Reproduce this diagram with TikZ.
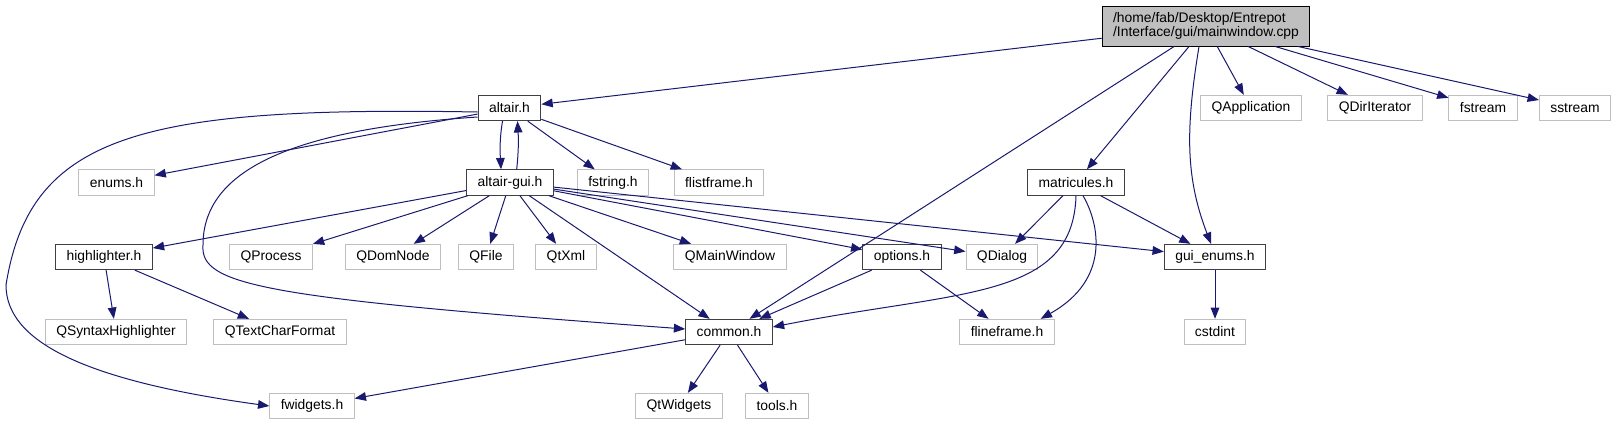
\documentclass[tikz,border=0pt]{standalone}
\usepackage{fontspec}
\setmainfont{Liberation Sans}
\usetikzlibrary{arrows.meta}
\definecolor{cEdge}{HTML}{191970}
\definecolor{cDoc}{HTML}{404040}
\definecolor{cExt}{HTML}{BFBFBF}
\definecolor{cMain}{HTML}{BFBFBF}

\begin{document}
\begin{tikzpicture}[
  x=0.75pt, y=-0.75pt,
  font=\fontsize{10.4}{12}\selectfont,
  >={Triangle[length=8.5pt, width=6.5pt]},
  hbox/.style   = {rectangle, draw, line width=0.75pt, inner xsep=8.2pt,
                   inner ysep=0pt, minimum height=19pt},
  doc/.style    = {hbox, draw=cDoc, fill=white},
  ext/.style    = {hbox, draw=cExt, fill=white},
  srcbox/.style = {hbox, draw=black, fill=cMain, align=left,
                   minimum height=30pt, font=\fontsize{10.4}{10.5}\selectfont},
  dep/.style    = {->, draw=cEdge, line width=0.75pt}]

\useasboundingbox (0,0) rectangle (1619,425);

% ---- rank 0: the source file ---------------------------------------------
\node[srcbox] (main) at (1206,26)
   {/home/fab/Desktop/Entrepot\\/Interface/gui/mainwindow.cpp};

% ---- rank 1 ----------------------------------------------------------------
\node[doc] (altair) at (509.5,108) {altair.h};
\node[ext] (qapp)   at (1251,108)  {QApplication};
\node[ext] (qdir)   at (1375,108)  {QDirIterator};
\node[ext] (fstream) at (1483,108) {fstream};
\node[ext] (sstream) at (1575,108) {sstream};

% ---- rank 2 ----------------------------------------------------------------
\node[ext] (enums)     at (116.5,182.5) {enums.h};
\node[doc] (altairgui) at (510,182.5)   {altair-gui.h};
\node[ext] (fstring)   at (613,182.5)   {fstring.h};
\node[ext] (flist)     at (719,182.5)   {flistframe.h};
\node[doc] (matr)      at (1076,182.5)  {matricules.h};

% ---- rank 3 ----------------------------------------------------------------
\node[doc] (hl)       at (104,257)  {highlighter.h};
\node[ext] (qproc)    at (271,257)  {QProcess};
\node[ext] (qdom)     at (393,257)  {QDomNode};
\node[ext] (qfile)    at (486,257)  {QFile};
\node[ext] (qtxml)    at (566,257)  {QtXml};
\node[ext] (qmain)    at (730,257)  {QMainWindow};
\node[doc] (options)  at (902,257)  {options.h};
\node[ext] (qdialog)  at (1002,257) {QDialog};
\node[doc] (guienums) at (1215,257) {gui\_enums.h};

% ---- rank 4 ----------------------------------------------------------------
\node[ext] (qsyntax) at (116,332)  {QSyntaxHighlighter};
\node[ext] (qtcf)    at (280,332)  {QTextCharFormat};
\node[doc] (common)  at (729,332)  {common.h};
\node[ext] (fline)   at (1007,332) {flineframe.h};
\node[ext] (cstdint) at (1215,332) {cstdint};

% ---- rank 5 ----------------------------------------------------------------
\node[ext] (fwidgets)  at (312,406) {fwidgets.h};
\node[ext] (qtwidgets) at (679,406) {QtWidgets};
\node[ext] (tools)     at (777,406) {tools.h};

% bend points of the long splines
\coordinate (fwbend) at (6,285);
\coordinate (cmbend) at (203,245);

% main includes
\draw[dep] (main) -- (altair);
\draw[dep] (main) -- (common);
\draw[dep] (main) -- (matr);
\draw[dep] ([xshift=-5.25pt]main.south) .. controls +(-14,85) and +(-25,-65)
   .. ([xshift=-3pt]guienums.north);
\draw[dep] (main) -- (qapp);
\draw[dep] (main) -- (qdir);
\draw[dep] (main) -- (fstream);
\draw[dep] (main) -- (sstream);

% altair.h
\draw[dep] ([xshift=-5.25pt]altair.south) .. controls +(-3,18) and +(-1,-18)
   .. ([xshift=-6.75pt]altairgui.north);
\draw[dep] ([xshift=5pt]altairgui.north) .. controls +(2,-18) and +(1,18)
   .. ([xshift=6pt]altair.south);
\draw[dep] (altair) -- (enums);
\draw[dep] ([yshift=-3pt]altair.west) .. controls (140,106) and (30,135) .. (fwbend)
   .. controls (6,340) and (80,380) .. (fwidgets.west);
\draw[dep] ([yshift=-6.75pt]altair.west) .. controls (280,130) and (203,175) .. (cmbend)
   .. controls (200,285) and (260,298) .. ([yshift=2.25pt]common.west);
\draw[dep] (altair) -- (fstring);
\draw[dep] (altair) -- (flist);

% altair-gui.h
\draw[dep] (altairgui) -- (hl);
\draw[dep] (altairgui) -- (qproc);
\draw[dep] (altairgui) -- (qdom);
\draw[dep] (altairgui) -- (qfile);
\draw[dep] (altairgui) -- (qtxml);
\draw[dep] (altairgui) -- (common);
\draw[dep] (altairgui) -- (qmain);
\draw[dep] (altairgui) -- (options);
\draw[dep] (altairgui) -- (qdialog);
\draw[dep] (altairgui) -- (guienums);

% matricules.h
\draw[dep] (matr) -- (qdialog);
\draw[dep] (matr) -- (guienums);
\draw[dep] (matr.south) .. controls (1073,300) and (960,290)
   .. ([yshift=3.75pt]common.east);
\draw[dep] ([xshift=5.25pt]matr.south) .. controls (1100,225) and (1110,280)
   .. ([xshift=-10.5pt]fline.north east);

% the rest
\draw[dep] (options) -- (common);
\draw[dep] (options) -- (fline);
\draw[dep] (hl) -- (qsyntax);
\draw[dep] (hl) -- (qtcf);
\draw[dep] (common) -- (fwidgets);
\draw[dep] (common) -- (qtwidgets);
\draw[dep] (common) -- (tools);
\draw[dep] (guienums) -- (cstdint);

\end{tikzpicture}
\end{document}
